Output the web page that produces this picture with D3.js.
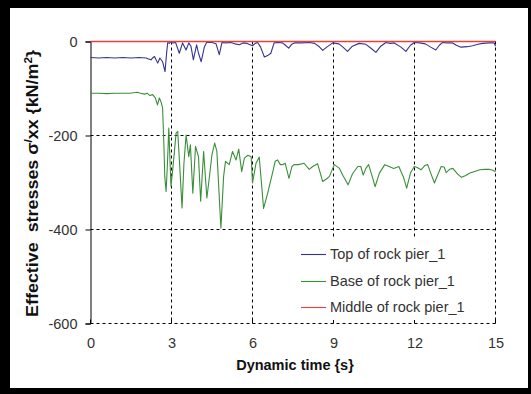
<!DOCTYPE html>
<html>
<head>
<meta charset="utf-8">
<script src="https://cdn.jsdelivr.net/npm/d3@7/dist/d3.min.js"></script>
<style>
  html, body { margin: 0; padding: 0; background: #000; }
  svg { display: block; }
  text { font-family: "Liberation Sans", Arial, sans-serif; }
</style>
</head>
<body>
<svg id="chart" width="531" height="394"></svg>
<script>
// Effective stress histories at three points of the rock pier
const xTicks = [0, 3, 6, 9, 12, 15];
const yTicks = [0, -200, -400, -600];

const topTime = [0, 0.3, 0.6, 0.9, 1.2, 1.5, 1.8, 2.06, 2.15, 2.24, 2.3, 2.37, 2.49, 2.57, 2.67, 2.76, 2.82, 2.86, 2.92, 2.96,
  3.05, 3.15, 3.29, 3.41, 3.54, 3.64, 3.72, 3.81, 3.93, 4.0, 4.1, 4.22, 4.3, 4.5, 4.65, 4.77, 4.87, 5.0, 5.2, 5.35,
  5.51, 5.65, 5.8, 6.0, 6.1, 6.19, 6.3, 6.44, 6.56, 6.68, 6.8, 6.95, 7.11, 7.22, 7.34, 7.45, 7.55, 7.8, 8.1, 8.3,
  8.45, 8.6, 8.75, 8.97, 9.2, 9.35, 9.52, 9.7, 9.95, 10.2, 10.4, 10.57, 10.75, 10.94, 11.1, 11.25, 11.5, 11.68, 11.85, 11.99,
  12.2, 12.4, 12.6, 12.79, 12.92, 13.04, 13.2, 13.41, 13.55, 13.72, 13.95, 14.15, 14.35, 14.52, 14.75, 14.95, 15.0];
const topStress = [-34, -35, -34, -35, -34, -35, -34, -35, -37, -39, -35, -32, -46, -35, -43, -64, -24, -2, -4, -1,
  -3, -2, -25, -3, -18, -3, -10, -39, -7, -25, -43, -11, -2, -2, -5, -28, -2, -3, -2, -5,
  -7, -3, -4, -9, -4, -2, -12, -33, -30, -25, -3, -2, -3, -8, -14, -6, -3, -3, -2, -4,
  -10, -19, -12, -3, -5, -12, -21, -10, -4, -6, -15, -23, -10, -2, -4, -3, -12, -21, -8, -2,
  -3, -5, -12, -18, -8, -2, -3, -3, -8, -12, -11, -9, -6, -4, -3, -3, -10];

const baseTime = [0, 0.3, 0.6, 0.9, 1.2, 1.44, 1.6, 1.74, 1.85, 2.0, 2.1, 2.2, 2.3, 2.4, 2.48, 2.55, 2.61, 2.67, 2.72, 2.75,
  2.8, 2.85, 2.9, 2.98, 3.05, 3.17, 3.23, 3.3, 3.39, 3.46, 3.54, 3.64, 3.7, 3.79, 3.89, 4.0, 4.08, 4.19, 4.31, 4.4,
  4.5, 4.6, 4.68, 4.75, 4.83, 4.93, 5.0, 5.14, 5.26, 5.39, 5.49, 5.6, 5.7, 5.83, 5.95, 6.0, 6.13, 6.25, 6.33, 6.41,
  6.56, 6.74, 6.84, 6.93, 7.03, 7.11, 7.21, 7.35, 7.46, 7.54, 7.7, 7.91, 8.1, 8.23, 8.41, 8.6, 8.75, 8.85, 9.03, 9.22,
  9.35, 9.54, 9.7, 9.9, 10.01, 10.1, 10.2, 10.3, 10.45, 10.54, 10.7, 10.9, 11.06, 11.23, 11.42, 11.6, 11.71, 11.85, 11.99, 12.1,
  12.24, 12.38, 12.49, 12.6, 12.74, 12.85, 12.99, 13.1, 13.17, 13.3, 13.42, 13.6, 13.74, 13.9, 14.05, 14.2, 14.42, 14.6, 14.76, 14.9, 15.0];
const baseStress = [-110, -110, -111, -110, -110, -110, -109, -108, -110, -112, -110, -115, -113, -120, -135, -120, -128, -141, -223, -287,
  -319, -260, -184, -308, -270, -195, -191, -260, -354, -260, -199, -245, -220, -323, -223, -245, -340, -234, -333, -290,
  -240, -216, -234, -310, -397, -287, -255, -262, -234, -252, -229, -277, -248, -242, -245, -301, -259, -246, -300, -355,
  -323, -280, -255, -252, -262, -262, -259, -291, -266, -262, -262, -259, -272, -266, -260, -298, -292, -287, -262, -270,
  -285, -305, -282, -266, -266, -284, -270, -262, -290, -309, -280, -262, -266, -270, -266, -290, -312, -280, -266, -268,
  -273, -264, -262, -280, -301, -285, -266, -267, -279, -272, -270, -282, -289, -285, -280, -277, -273, -272, -272, -274, -277];

const middleTime = [0, 3, 6, 9, 12, 15];
const middleStress = [0, 0, 0, 0, 0, 0];

const seriesNames = ["Top of rock pier_1", "Base of rock pier_1", "Middle of rock pier_1"];
const seriesColors = ["#34348f", "#3a8f3a", "#e8403c"];

const svg = d3.select("#chart");

// black frame with white page inside
svg.append("rect").attr("x", 0).attr("y", 0).attr("width", 531).attr("height", 394).attr("fill", "#000");
svg.append("rect").attr("x", 10).attr("y", 8).attr("width", 518).attr("height", 380).attr("fill", "#fff");

// plot edges sit on half pixels so 1px rules stay crisp
const plot = { left: 90.5, right: 495.5, top: 41.5, bottom: 323.5 };

const x = d3.scaleLinear().domain([0, 15]).range([plot.left, plot.right]);
const y = d3.scaleLinear().domain([-600, 0]).range([plot.bottom, plot.top]);

// tick labels use a plain hyphen for negatives
const fmt = d => String(d);

// dashed grid
const grid = svg.append("g").attr("stroke", "#000").attr("stroke-width", 1).attr("stroke-dasharray", "3,3");
grid.selectAll(null).data(xTicks.filter(d => d > 0)).join("line")
  .attr("x1", d => x(d)).attr("x2", d => x(d))
  .attr("y1", plot.top).attr("y2", plot.bottom);
grid.selectAll(null).data(yTicks).join("line")
  .attr("x1", plot.left).attr("x2", plot.right)
  .attr("y1", d => y(d)).attr("y2", d => y(d));

// short inward ticks along the time axis
svg.append("g").attr("stroke", "#000").selectAll(null).data(xTicks).join("line")
  .attr("x1", d => x(d)).attr("x2", d => x(d))
  .attr("y1", plot.bottom - 4).attr("y2", plot.bottom);

// left axis with outward ticks
const yAxis = d3.axisLeft(y).tickValues(yTicks).tickSize(5).tickPadding(8).tickFormat(fmt);
const yg = svg.append("g").attr("transform", `translate(${plot.left},0)`).call(yAxis);
yg.select(".domain").attr("stroke", "#000");
yg.selectAll(".tick line").attr("stroke", "#000");
yg.selectAll(".tick text").attr("font-size", 14.5).attr("fill", "#333")
  .attr("font-family", "Liberation Sans, Arial, sans-serif");

// bottom tick labels
const xg = svg.append("g").attr("transform", `translate(0,${plot.bottom})`)
  .call(d3.axisBottom(x).tickValues(xTicks).tickSize(0).tickPadding(14).tickFormat(fmt));
xg.select(".domain").remove();
xg.selectAll(".tick text").attr("font-size", 14.5).attr("fill", "#333")
  .attr("font-family", "Liberation Sans, Arial, sans-serif");

// series lines
const line = d3.line().x(d => x(d[0])).y(d => y(d[1]));
const series = [
  d3.zip(topTime, topStress),
  d3.zip(baseTime, baseStress),
  d3.zip(middleTime, middleStress)
];
svg.append("g").selectAll("path").data(series).join("path")
  .attr("d", line)
  .attr("fill", "none")
  .attr("stroke", (d, i) => seriesColors[i])
  .attr("stroke-width", (d, i) => i === 2 ? 1.3 : 1.1)
  .attr("stroke-linejoin", "round");

// axis titles
svg.append("text")
  .attr("x", (plot.left + plot.right) / 2 + 2).attr("y", 370)
  .attr("text-anchor", "middle").attr("font-size", 14.5).attr("font-weight", "bold").attr("fill", "#111")
  .text("Dynamic time {s}");

const yt = svg.append("text")
  .attr("transform", `translate(38,${(plot.top + plot.bottom) / 2 + 1}) rotate(-90) scale(1.12,1)`)
  .attr("text-anchor", "middle").attr("font-size", 16).attr("font-weight", "bold").attr("fill", "#111")
  .attr("xml:space", "preserve");
yt.append("tspan").text("Effective  stresses σ");
yt.append("tspan").attr("dy", -6).attr("font-size", 10.5).text("/");
yt.append("tspan").attr("dy", 6).text("xx {kN/m");
yt.append("tspan").attr("dy", -6).attr("font-size", 10.5).text("2");
yt.append("tspan").attr("dy", 6).text("}");

// legend on a white panel that hides the grid behind it
const legendRows = [254, 281, 307];
const lg = svg.append("g");
lg.append("rect").attr("x", 292).attr("y", 238).attr("width", 201).attr("height", 82).attr("fill", "#fff");
seriesNames.forEach((name, i) => {
  lg.append("line").attr("x1", 301).attr("x2", 326)
    .attr("y1", legendRows[i] + 0.5).attr("y2", legendRows[i] + 0.5)
    .attr("stroke", seriesColors[i]).attr("stroke-width", 1.1);
  lg.append("text").attr("x", 330).attr("y", legendRows[i] + 5)
    .attr("font-size", 14.5).attr("fill", "#333").text(name);
});
</script>
</body>
</html>
